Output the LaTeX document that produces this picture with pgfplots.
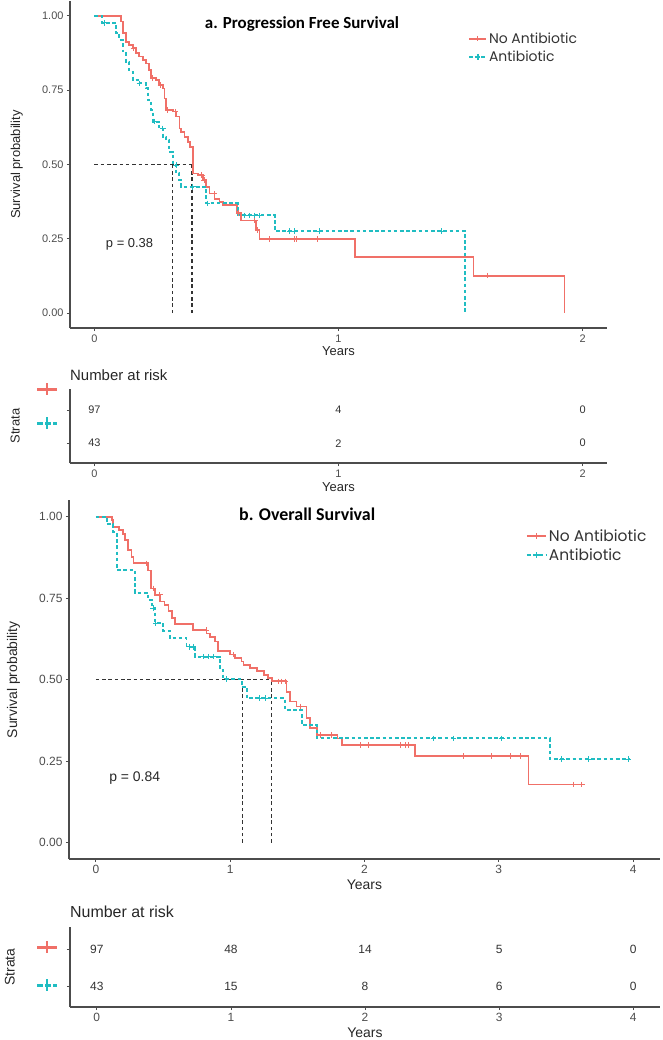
\documentclass[border=0pt]{standalone}
\usepackage{pgfplots}
\pgfplotsset{compat=1.18}
\usepackage{fontspec}
\setmainfont{Liberation Sans}
\newfontfamily\titlefont{Carlito}
\newfontfamily\legfont{Poppins}
\definecolor{cred}{HTML}{F07068}
\definecolor{ccyan}{HTML}{20BDC2}
\definecolor{axgray}{HTML}{4D4D4D}
\definecolor{medgray}{HTML}{333333}

\pgfplotsset{
  base/.style={scale only axis, axis x line=bottom, axis y line=left,
    axis line style={-, line width=1.3bp, draw=black!70},
    tick style={line width=0.8bp, black!70}, tick align=outside,
    major tick length=3bp,
    /pgf/number format/assume math mode=true,
    enlargelimits=false},
  redline/.style={const plot, cred, line width=1.7bp, mark=none},
  cyanline/.style={const plot, ccyan, line width=1.9bp, mark=none, dash pattern=on 3.6bp off 2.6bp},
  redcens/.style={only marks, cred, mark=+, mark size=2.8bp, mark options={solid, line width=0.9bp}},
  cyancens/.style={only marks, ccyan, mark=+, mark size=2.8bp, mark options={solid, line width=0.9bp}},
  median/.style={medgray, line width=1.2bp, dash pattern=on 3.5bp off 2.8bp, mark=none},
  risknum/.style={only marks, mark=none, nodes near coords, point meta=explicit symbolic,
    nodes near coords align={center}},
}

\begin{document}
\begin{tikzpicture}
\path[use as bounding box] (0,0) rectangle (663bp,-1040bp);

%================ Panel a: PFS ================
\begin{axis}[base, at={(70bp,-328bp)}, anchor=south west,
  width=537bp, height=327bp,
  xmin=-0.1, xmax=2.1, ymin=-0.05, ymax=1.05,
  xtick={0,1,2}, xticklabels={0,1,2},
  ytick={0,0.25,0.5,0.75,1}, yticklabels={0.00,0.25,0.50,0.75,1.00},
  tick label style={font=\fontsize{11}{12}\selectfont, text=axgray},
  xlabel={Years}, ylabel={Survival probability},
  label style={font=\fontsize{13}{14}\selectfont, text=black!85},
  xlabel style={at={(axis description cs:0.5,0)}, anchor=center, yshift=-23bp},
  ylabel style={at={(axis description cs:-0.099,0.5)}, anchor=center},
  legend style={draw=none, fill=none, font=\legfont\fontsize{14}{15}\selectfont,
    at={(axis description cs:0.741,0.91)}, anchor=north west,
    row sep=2bp, inner sep=0pt, nodes={inner sep=2pt, text=black!80}},
  legend cell align=left,
  legend image code/.code={\draw[mark repeat=2,mark phase=2] plot coordinates {(0bp,0bp) (8.5bp,0bp) (17bp,0bp)};},
]
\addlegendimage{cred, line width=1.7bp, mark=+, mark size=2.8bp, mark options={solid}}
\addlegendentry{No Antibiotic}
\addlegendimage{ccyan, line width=1.9bp, dash pattern=on 3.6bp off 2.6bp, mark=+, mark size=2.8bp, mark options={solid}}
\addlegendentry{Antibiotic}

\addplot[median, forget plot] coordinates {(0,0.5) (0.40,0.5)};
\addplot[median, forget plot] coordinates {(0.40,0) (0.40,0.5)};
\addplot[median, forget plot] coordinates {(0.321,0) (0.321,0.5)};

\addplot[redline, forget plot] table {
t s
0 1
0.109 0.981
0.116 0.942
0.130 0.913
0.143 0.902
0.157 0.891
0.171 0.874
0.184 0.863
0.198 0.852
0.212 0.840
0.225 0.818
0.232 0.790
0.253 0.784
0.266 0.767
0.280 0.756
0.287 0.722
0.294 0.683
0.321 0.678
0.335 0.661
0.348 0.621
0.355 0.610
0.369 0.593
0.383 0.576
0.392 0.560
0.403 0.470
0.423 0.464
0.444 0.447
0.458 0.425
0.471 0.402
0.492 0.385
0.512 0.374
0.526 0.363
0.585 0.336
0.600 0.312
0.663 0.280
0.676 0.250
1.068 0.189
1.553 0.126
1.926 0
};
\addplot[redcens, forget plot] table {
t s
0.160 0.891
0.239 0.790
0.270 0.767
0.300 0.683
0.330 0.678
0.440 0.464
0.450 0.447
0.490 0.402
0.590 0.336
0.657 0.312
0.668 0.280
0.717 0.250
0.820 0.250
0.827 0.250
0.915 0.250
1.612 0.126
};

\addplot[cyanline, forget plot] table {
t s
0 1
0.030 0.977
0.089 0.942
0.102 0.919
0.116 0.880
0.130 0.846
0.143 0.812
0.157 0.784
0.178 0.773
0.212 0.756
0.219 0.717
0.232 0.683
0.239 0.644
0.266 0.621
0.280 0.593
0.294 0.582
0.307 0.543
0.321 0.498
0.335 0.470
0.348 0.447
0.355 0.425
0.458 0.369
0.587 0.329
0.738 0.276
1.519 0
};
\addplot[cyancens, forget plot] table {
t s
0.041 0.977
0.184 0.773
0.246 0.644
0.280 0.621
0.335 0.498
0.403 0.425
0.464 0.369
0.615 0.329
0.635 0.329
0.656 0.329
0.676 0.329
0.800 0.276
0.820 0.276
0.920 0.276
1.421 0.276
};

\node[anchor=center, font=\titlefont\bfseries\fontsize{17}{19}\selectfont] at (axis description cs:0.432,0.93) {a. Progression Free Survival};
\node[anchor=west, font=\fontsize{13}{14}\selectfont, text=black!85] at (axis cs:0.033,0.23) {p = 0.38};
\end{axis}

%================ Risk table a ================
\begin{axis}[base, at={(70bp,-463bp)}, anchor=south west,
  width=537bp, height=74bp, clip=false,
  xmin=-0.1, xmax=2.1, ymin=0.4, ymax=2.64,
  xtick={0,1,2}, xticklabels={0,1,2},
  ytick={1,2}, yticklabels={,},
  tick label style={font=\fontsize{11}{12}\selectfont, text=axgray},
  xlabel={Years}, ylabel={Strata},
  label style={font=\fontsize{13}{14}\selectfont, text=black!85},
  xlabel style={at={(axis description cs:0.5,0)}, anchor=center, yshift=-24bp},
  ylabel style={at={(axis description cs:-0.102,0.5)}, anchor=center},
  every node near coord/.append style={font=\fontsize{11}{12}\selectfont, text=black!80, anchor=center},
]
\addplot[risknum] table[meta=n] {
x y n
0 2 97
1 2 4
2 2 0
0 1 43
1 1 2
2 1 0
};
\node[anchor=west, inner sep=0pt, font=\fontsize{15}{16}\selectfont, text=black!85] at ([yshift=14bp]axis description cs:0,1) {Number at risk};
\end{axis}
% strata keys
\draw[cred, line width=3bp] (37bp,-389bp) -- (57bp,-389bp);
\draw[cred, line width=1.8bp] (47bp,-383bp) -- (47bp,-395bp);
\draw[ccyan, line width=3bp, dash pattern=on 6bp off 2bp] (37bp,-423bp) -- (57bp,-423bp);
\draw[ccyan, line width=1.8bp] (47bp,-417bp) -- (47bp,-429bp);

%================ Panel b: OS ================
\begin{axis}[base, at={(69bp,-859bp)}, anchor=south west,
  width=591bp, height=358.6bp,
  xmin=-0.2, xmax=4.2, ymin=-0.05, ymax=1.05,
  xtick={0,1,2,3,4}, xticklabels={0,1,2,3,4},
  ytick={0,0.25,0.5,0.75,1}, yticklabels={0.00,0.25,0.50,0.75,1.00},
  tick label style={font=\fontsize{12}{13}\selectfont, text=axgray},
  xlabel={Years}, ylabel={Survival probability},
  label style={font=\fontsize{14}{15}\selectfont, text=black!85},
  xlabel style={at={(axis description cs:0.5,0)}, anchor=center, yshift=-26bp},
  ylabel style={at={(axis description cs:-0.094,0.5)}, anchor=center},
  legend style={draw=none, fill=none, font=\legfont\fontsize{15.5}{17}\selectfont,
    at={(axis description cs:0.773,0.925)}, anchor=north west,
    row sep=2bp, inner sep=0pt, nodes={inner sep=2pt, text=black!80}},
  legend cell align=left,
  legend image code/.code={\draw[mark repeat=2,mark phase=2] plot coordinates {(0bp,0bp) (9.5bp,0bp) (19bp,0bp)};},
]
\addlegendimage{cred, line width=1.7bp, mark=+, mark size=3bp, mark options={solid}}
\addlegendentry{No Antibiotic}
\addlegendimage{ccyan, line width=1.9bp, dash pattern=on 3.6bp off 2.6bp, mark=+, mark size=3bp, mark options={solid}}
\addlegendentry{Antibiotic}

\addplot[median, forget plot] coordinates {(0,0.5) (1.309,0.5)};
\addplot[median, forget plot] coordinates {(1.309,0) (1.309,0.5)};
\addplot[median, forget plot] coordinates {(1.092,0) (1.092,0.5)};

\addplot[redline, forget plot] table {
t s
0 1
0.12 0.990
0.13 0.969
0.17 0.959
0.20 0.948
0.215 0.928
0.24 0.897
0.265 0.876
0.28 0.857
0.39 0.835
0.41 0.780
0.44 0.760
0.48 0.740
0.51 0.730
0.54 0.710
0.565 0.690
0.59 0.670
0.725 0.652
0.824 0.642
0.85 0.632
0.886 0.617
0.911 0.587
1.00 0.577
1.035 0.566
1.085 0.556
1.10 0.546
1.15 0.536
1.20 0.526
1.25 0.515
1.28 0.505
1.309 0.495
1.42 0.463
1.445 0.433
1.494 0.418
1.569 0.382
1.594 0.351
1.644 0.330
1.80 0.320
1.83 0.300
2.376 0.266
3.22 0.179
3.618 0.179
};
\addplot[redcens, forget plot] table {
t s
0.377 0.857
0.427 0.780
0.477 0.760
0.820 0.652
1.023 0.577
1.358 0.495
1.383 0.495
1.408 0.495
1.520 0.418
1.670 0.330
1.756 0.330
1.967 0.300
2.028 0.300
2.265 0.300
2.302 0.300
2.327 0.300
2.736 0.266
2.947 0.266
3.084 0.266
3.158 0.266
3.556 0.179
3.618 0.179
};

\addplot[cyanline, forget plot] table {
t s
0 1
0.08 0.977
0.13 0.953
0.155 0.837
0.29 0.767
0.39 0.744
0.42 0.720
0.44 0.674
0.50 0.650
0.55 0.627
0.675 0.601
0.737 0.571
0.924 0.530
0.948 0.503
1.085 0.479
1.122 0.443
1.408 0.407
1.532 0.361
1.644 0.320
3.382 0.256
3.978 0.256
};
\addplot[cyancens, forget plot] table {
t s
0.427 0.720
0.445 0.674
0.700 0.601
0.725 0.601
0.800 0.571
0.837 0.571
0.874 0.571
0.973 0.503
1.220 0.443
1.260 0.443
2.513 0.320
2.663 0.320
3.022 0.320
3.469 0.256
3.667 0.256
3.965 0.256
};

\node[anchor=center, font=\titlefont\bfseries\fontsize{18}{20}\selectfont] at (axis description cs:0.403,0.962) {b. Overall Survival};
\node[anchor=west, font=\fontsize{14}{15}\selectfont, text=black!85] at (axis cs:0.074,0.198) {p = 0.84};
\end{axis}

%================ Risk table b ================
\begin{axis}[base, at={(70bp,-1007bp)}, anchor=south west,
  width=590bp, height=80bp, clip=false,
  xmin=-0.2, xmax=4.2, ymin=0.43, ymax=2.6,
  xtick={0,1,2,3,4}, xticklabels={0,1,2,3,4},
  ytick={1,2}, yticklabels={,},
  tick label style={font=\fontsize{12}{13}\selectfont, text=axgray},
  xlabel={Years}, ylabel={Strata},
  label style={font=\fontsize{14}{15}\selectfont, text=black!85},
  xlabel style={at={(axis description cs:0.5,0)}, anchor=center, yshift=-26bp},
  ylabel style={at={(axis description cs:-0.102,0.5)}, anchor=center},
  every node near coord/.append style={font=\fontsize{12}{13}\selectfont, text=black!80, anchor=center},
]
\addplot[risknum] table[meta=n] {
x y n
0 2 97
1 2 48
2 2 14
3 2 5
4 2 0
0 1 43
1 1 15
2 1 8
3 1 6
4 1 0
};
\node[anchor=west, inner sep=0pt, font=\fontsize{16}{17}\selectfont, text=black!85] at ([yshift=15bp]axis description cs:0,1) {Number at risk};
\end{axis}
\draw[cred, line width=3bp] (37bp,-947bp) -- (57bp,-947bp);
\draw[cred, line width=1.8bp] (47bp,-941bp) -- (47bp,-953bp);
\draw[ccyan, line width=3bp, dash pattern=on 6bp off 2bp] (37bp,-985bp) -- (57bp,-985bp);
\draw[ccyan, line width=1.8bp] (47bp,-979bp) -- (47bp,-991bp);
\end{tikzpicture}
\end{document}
